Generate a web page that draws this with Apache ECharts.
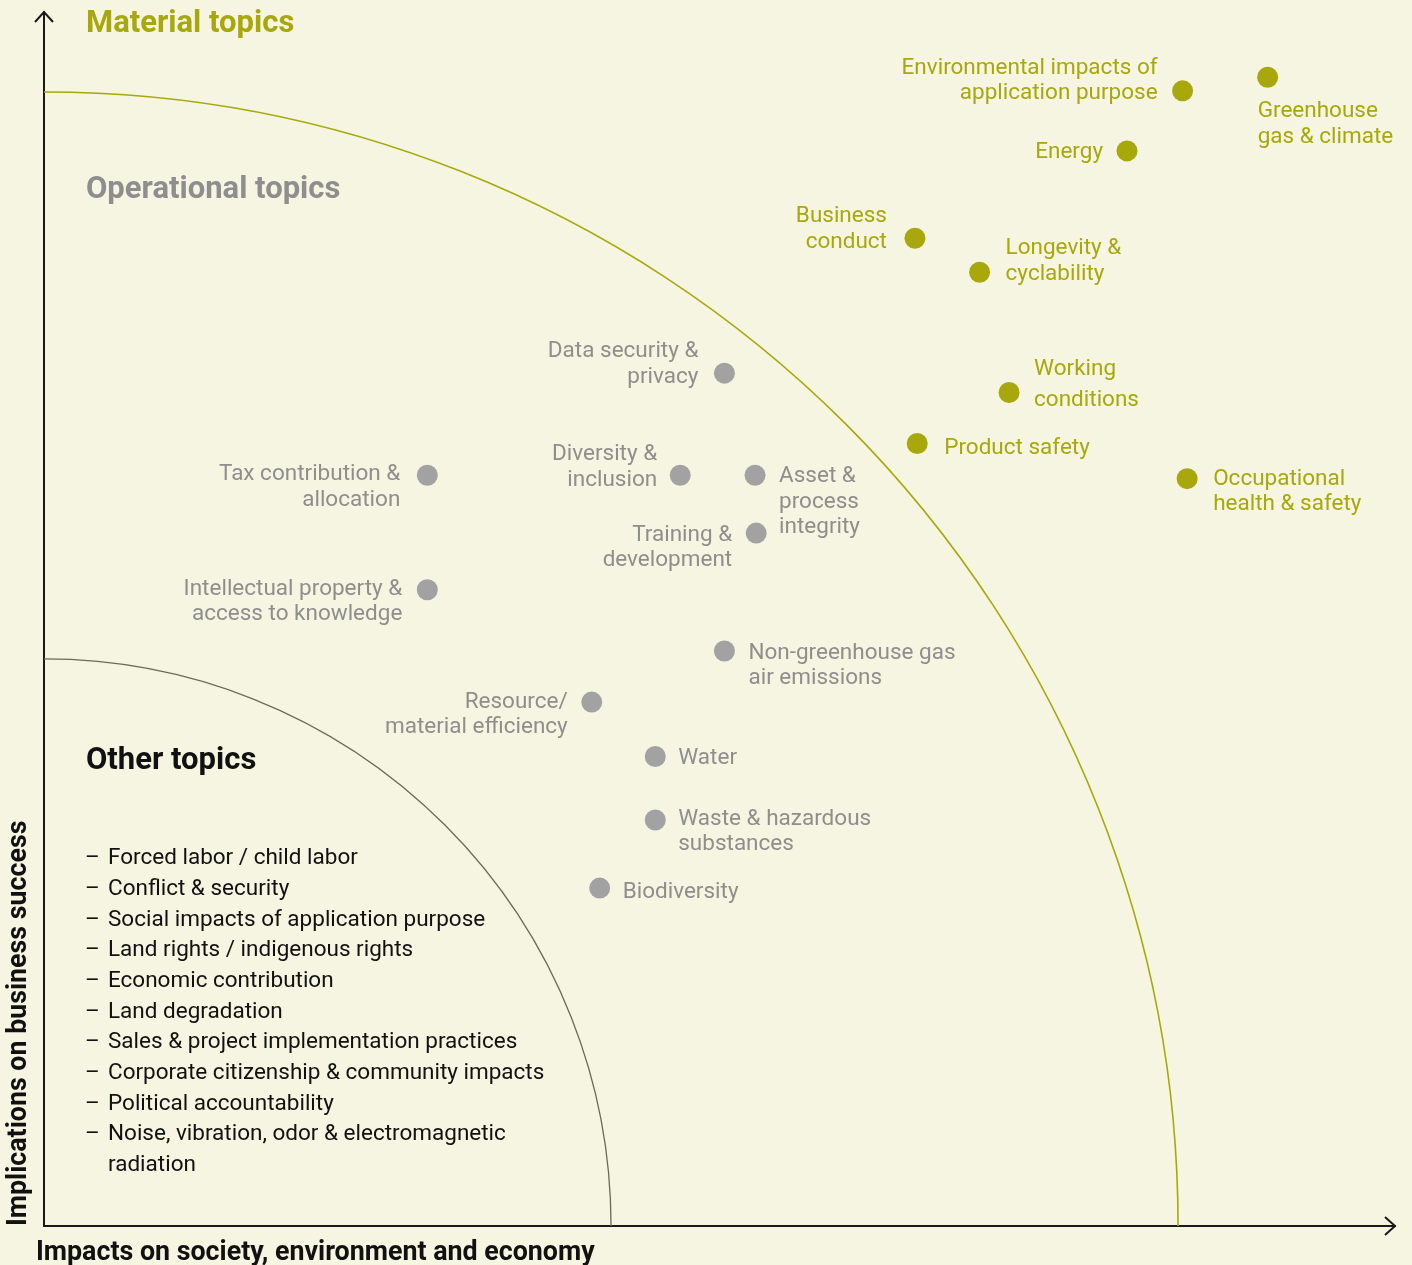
<!DOCTYPE html>
<html>
<head>
<meta charset="utf-8">
<script src="https://cdn.jsdelivr.net/npm/echarts@6/dist/echarts.min.js"></script>
<style>
  html, body { margin: 0; padding: 0; background: #f5f5e1; }
  #chart { width: 1412px; height: 1265px; }
</style>
</head>
<body>
<div id="chart"></div>
<script>
// material topics (olive)
var materialNames = [
    'Greenhouse\ngas & climate',
    'Environmental impacts of\napplication purpose',
    'Energy',
    'Business\nconduct',
    'Longevity &\ncyclability',
    'Working\nconditions',
    'Product safety',
    'Occupational\nhealth & safety'
];
var materialX = [10.79, 10.04, 9.55, 7.68, 8.25, 8.51, 7.70, 10.08];
var materialY = [10.13, 10.01, 9.48, 8.71, 8.41, 7.35, 6.90, 6.59];

// operational topics (gray)
var operationalNames = [
    'Data security &\nprivacy',
    'Tax contribution &\nallocation',
    'Diversity &\ninclusion',
    'Asset &\nprocess\nintegrity',
    'Training &\ndevelopment',
    'Intellectual property &\naccess to knowledge',
    'Non-greenhouse gas\nair emissions',
    'Resource/\nmaterial efficiency',
    'Water',
    'Waste & hazardous\nsubstances',
    'Biodiversity'
];
var operationalX = [6.00, 3.38, 5.61, 6.27, 6.28, 3.38, 6.00, 4.83, 5.39, 5.39, 4.90];
var operationalY = [7.52, 6.62, 6.62, 6.62, 6.11, 5.61, 5.07, 4.62, 4.14, 3.58, 2.98];

// other topics, listed only
var otherTopics = [
    'Forced labor / child labor',
    'Conflict & security',
    'Social impacts of application purpose',
    'Land rights / indigenous rights',
    'Economic contribution',
    'Land degradation',
    'Sales & project implementation practices',
    'Corporate citizenship & community impacts',
    'Political accountability',
    'Noise, vibration, odor & electromagnetic\nradiation'
];

// zone boundaries (radius)
var innerRadius = 5;
var outerRadius = 10;

// label placement: [dx, dy, align]
var materialPlace = [
    [-10, 47, 'left'], [-25, -10, 'right'], [-24, 1, 'right'], [-28, -9, 'right'],
    [26, -11, 'left'], [25, -8, 'left'], [27, 5, 'left'], [26, 13, 'left']
];
var operationalPlace = [
    [-26, -9, 'right'], [-27, 12, 'right'], [-23, -8, 'right'], [24, 27, 'left'],
    [-24, 15, 'right'], [-25, 12, 'right'], [24, 15, 'left'], [-24, 13, 'right'],
    [23, 2, 'left'], [23, 12, 'left'], [23, 4, 'left']
];

var OLIVE = '#a8a80c';
var GRAY = '#a2a2a2';
var GRAY_TEXT = '#8e8e8e';
var FONT = 'Roboto, "DejaVu Sans", sans-serif';

function buildData(names, xs, ys, place, color) {
    return names.map(function (n, i) {
        var p = place[i];
        return {
            name: n,
            value: [xs[i], ys[i]],
            label: {
                show: true,
                position: 'inside',
                offset: [p[0], p[1]],
                align: p[2],
                verticalAlign: 'middle',
                formatter: '{b}',
                color: color,
                fontSize: 22.5,
                fontFamily: FONT,
                lineHeight: (n === 'Working\nconditions') ? 31 : 25.5
            }
        };
    });
}

var chart = echarts.init(document.getElementById('chart'));

var option = {
    backgroundColor: '#f5f5e1',
    animation: false,
    grid: { left: 44, right: 17, top: 12, bottom: 39 },
    xAxis: {
        type: 'value', min: 0, max: 11.913,
        axisLine: { show: true, lineStyle: { color: '#1a1a1a', width: 2 } },
        axisTick: { show: false }, axisLabel: { show: false }, splitLine: { show: false }
    },
    yAxis: {
        type: 'value', min: 0, max: 10.705,
        axisLine: { show: true, lineStyle: { color: '#1a1a1a', width: 2 } },
        axisTick: { show: false }, axisLabel: { show: false }, splitLine: { show: false }
    },
    series: [
        {
            type: 'scatter',
            name: 'Material topics',
            symbolSize: 21,
            itemStyle: { color: OLIVE, opacity: 1 },
            data: buildData(materialNames, materialX, materialY, materialPlace, OLIVE),
            z: 5
        },
        {
            type: 'scatter',
            name: 'Operational topics',
            symbolSize: 21,
            itemStyle: { color: GRAY, opacity: 1 },
            data: buildData(operationalNames, operationalX, operationalY, operationalPlace, GRAY_TEXT),
            z: 5
        }
    ]
};
chart.setOption(option);

var origin = chart.convertToPixel('grid', [0, 0]);
var rOuter = chart.convertToPixel('grid', [outerRadius, 0])[0] - origin[0];
var rInner = chart.convertToPixel('grid', [innerRadius, 0])[0] - origin[0];
var xEnd = chart.convertToPixel('grid', [11.913, 0])[0];
var yEnd = chart.convertToPixel('grid', [0, 10.705])[1];

var listLines = [];
otherTopics.forEach(function (t) {
    t.split('\n').forEach(function (s, j) { listLines.push({ text: s, dash: j === 0 }); });
});

var graphics = [
    {
        type: 'arc', z: 1,
        shape: { cx: origin[0], cy: origin[1], r: rOuter, startAngle: -Math.PI / 2, endAngle: 0, clockwise: true },
        style: { fill: 'none', stroke: OLIVE, lineWidth: 1.6 }
    },
    {
        type: 'arc', z: 1,
        shape: { cx: origin[0], cy: origin[1], r: rInner, startAngle: -Math.PI / 2, endAngle: 0, clockwise: true },
        style: { fill: 'none', stroke: '#6a6a5a', lineWidth: 1.3 }
    },
    // arrow heads
    {
        type: 'polyline', z: 10,
        shape: { points: [[xEnd - 10, origin[1] - 9], [xEnd, origin[1]], [xEnd - 10, origin[1] + 9]] },
        style: { fill: 'none', stroke: '#1a1a1a', lineWidth: 2 }
    },
    {
        type: 'polyline', z: 10,
        shape: { points: [[origin[0] - 9, yEnd + 10], [origin[0], yEnd], [origin[0] + 9, yEnd + 10]] },
        style: { fill: 'none', stroke: '#1a1a1a', lineWidth: 2 }
    },
    {
        type: 'text', x: 86, y: 24,
        style: { text: 'Material topics', fill: OLIVE, font: 'bold 31px ' + FONT, verticalAlign: 'middle' }
    },
    {
        type: 'text', x: 86, y: 190,
        style: { text: 'Operational topics', fill: GRAY_TEXT, font: 'bold 31px ' + FONT, verticalAlign: 'middle' }
    },
    {
        type: 'text', x: 86, y: 761,
        style: { text: 'Other topics', fill: '#111', font: 'bold 31px ' + FONT, verticalAlign: 'middle' }
    },
    {
        type: 'text', x: 36, y: 1253,
        style: { text: 'Impacts on society, environment and economy', fill: '#111', font: 'bold 26.8px ' + FONT, verticalAlign: 'middle' }
    },
    {
        type: 'text', x: 19, y: 1226, rotation: Math.PI / 2,
        style: {
            text: 'Implications on business success', fill: '#111', font: 'bold 26.8px ' + FONT,
            align: 'left', verticalAlign: 'middle'
        }
    }
];

listLines.forEach(function (l, i) {
    var y = 858.5 + i * 30.7;
    if (l.dash) {
        graphics.push({
            type: 'text', x: 85, y: y,
            style: { text: '–', fill: '#111', font: '22.5px ' + FONT, verticalAlign: 'middle' }
        });
    }
    graphics.push({
        type: 'text', x: 108, y: y,
        style: { text: l.text, fill: '#111', font: '22.5px ' + FONT, verticalAlign: 'middle' }
    });
});

chart.setOption({ graphic: graphics });
</script>
</body>
</html>
